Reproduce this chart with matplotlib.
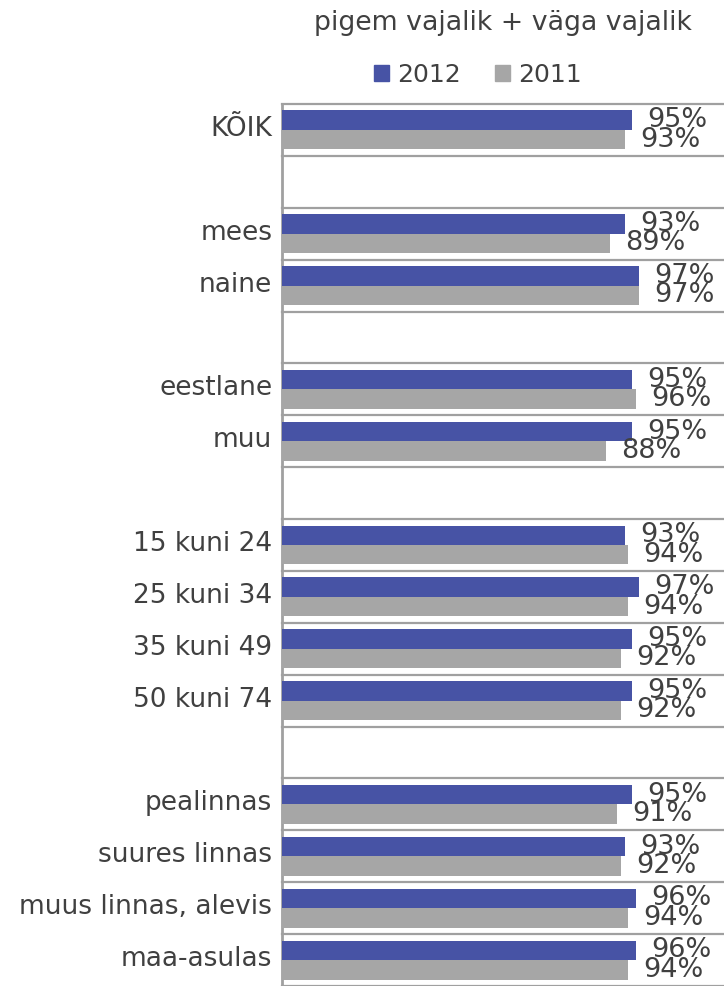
import numpy as np
import matplotlib.pyplot as plt
import matplotlib.transforms as mtransforms
from matplotlib.patches import Patch

# data (blank strings = spacer rows)
categories = ["KÕIK", "", "mees", "naine", "", "eestlane", "muu", "",
              "15 kuni 24", "25 kuni 34", "35 kuni 49", "50 kuni 74", "",
              "pealinnas", "suures linnas", "muus linnas, alevis", "maa-asulas"]
vals_2012 = [95, None, 93, 97, None, 95, 95, None, 93, 97, 95, 95, None, 95, 93, 96, 96]
vals_2011 = [93, None, 89, 97, None, 96, 88, None, 94, 94, 92, 92, None, 91, 92, 94, 94]
series_names = ["2012", "2011"]
title = "pigem vajalik + väga vajalik"

BLUE = "#4753a5"
GRAY = "#a6a6a6"
TEXT = "#404040"
GRID = "#a0a0a0"

plt.rcParams['font.family'] = ['DejaVu Sans']

fig = plt.figure(figsize=(7.24, 9.86), dpi=100)
ax = fig.add_axes([282 / 724, 0, 1 - 282 / 724, 1 - 104 / 986])

y = np.arange(len(categories))
bh = 0.375

for i, (a, b) in enumerate(zip(vals_2012, vals_2011)):
    if a is None:
        continue
    ax.barh(i - bh / 2, a / 100, height=bh, color=BLUE, zorder=3)
    ax.barh(i + bh / 2, b / 100, height=bh, color=GRAY, zorder=3)
    for v, yy in ((a, i - bh / 2), (b, i + bh / 2)):
        ax.annotate(f"{v}%", (v / 100, yy), xytext=(11, 0), textcoords="offset points",
                    va="center", ha="left", fontsize=19.5, color=TEXT, clip_on=False)

ax.set_xlim(0, 1.2)
ax.set_ylim(len(categories) - 0.5, -0.5)
ax.set_yticks(y)
ax.set_yticklabels(categories, fontsize=19, color=TEXT)
ax.tick_params(axis="y", length=0, pad=7)
ax.set_xticks([])

# nudge category labels up a little, like the reference
shift = mtransforms.ScaledTranslation(0, 0.04, fig.dpi_scale_trans)
for lab in ax.get_yticklabels():
    lab.set_transform(lab.get_transform() + shift)

# row separators
for b in np.arange(-0.5, len(categories) + 0.5, 1):
    ax.axhline(b, color=GRID, lw=1.6, zorder=1, clip_on=False)

for s in ["top", "right", "bottom"]:
    ax.spines[s].set_visible(False)
ax.spines["left"].set_color(GRID)
ax.spines["left"].set_linewidth(2)

fig.text(0.694, 0.977, title, ha="center", va="center", fontsize=19.3, color=TEXT)

handles = [Patch(color=BLUE), Patch(color=GRAY)]
fig.legend(handles, series_names, loc="center", bbox_to_anchor=(0.66, 0.924), ncol=2,
           frameon=False, fontsize=18, handlelength=0.6, handleheight=0.6,
           handletextpad=0.3, columnspacing=1.4, labelcolor=TEXT)

fig.savefig("out.png", dpi=100)
